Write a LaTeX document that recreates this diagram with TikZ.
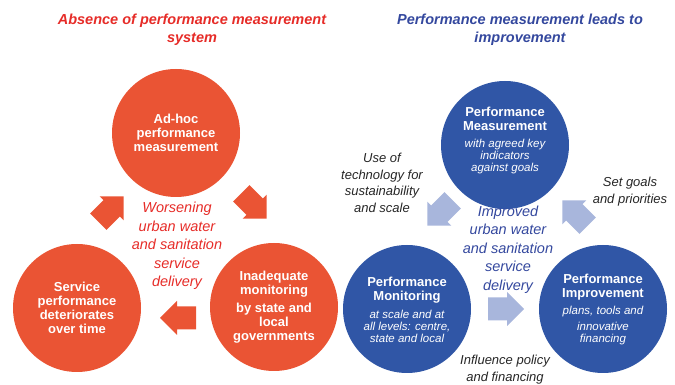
\documentclass[tikz,border=0pt]{standalone}
\usepackage{fontspec}
\setmainfont{Liberation Sans}
\definecolor{redcirc}{RGB}{234,84,52}
\definecolor{redtitle}{RGB}{230,44,40}
\definecolor{bluecirc}{RGB}{48,86,166}
\definecolor{bluetitle}{RGB}{52,72,158}
\definecolor{lightarrow}{RGB}{168,182,220}
\newcommand{\smallital}[1]{\fontsize{11.5}{#1}\selectfont\mdseries\itshape}
\begin{document}
\begin{tikzpicture}[x=1pt,y=1pt,
  disc/.style={circle, minimum size=128pt, inner sep=0pt, fill=#1},
  titletext/.style={font=\fontsize{14.5}{18}\selectfont\bfseries\itshape, text=#1, align=center},
  disctext/.style={font=\fontsize{13}{14}\selectfont\bfseries, text=white, align=center},
  centertext/.style={font=\fontsize{14.5}{18.5}\selectfont\itshape, text=#1, align=center},
  sidetext/.style={font=\fontsize{13}{16.5}\selectfont\itshape, text=black!85, align=center},
  blockarrow/.pic={\fill (-18,-11.5) -- (1,-11.5) -- (1,-17) -- (18,0) -- (1,17) -- (1,11.5) -- (-18,11.5) -- cycle;}
]
\useasboundingbox (0,0) rectangle (675,385);

% ---------- left cycle: no performance measurement ----------
\node[titletext=redtitle] (ltitle) at (192,355) {Absence of performance measurement\\system};

\node[disc=redcirc] (ladhoc) at (176,252) {};
\node[disc=redcirc] (lservice) at (77,77) {};
\node[disc=redcirc] (lmonitor) at (274,78) {};

\node[disctext] (ladhoctext) at (ladhoc) {Ad-hoc\\performance\\measurement};
\node[disctext] (lservicetext) at (lservice) {Service\\performance\\deteriorates\\over time};
\node[disctext] (lmonitortext) at (lmonitor) {Inadequate\\monitoring\\[4pt]by state and\\local\\governments};

\node[centertext=redtitle] (lcentre) at (177,139) {Worsening\\urban water\\and sanitation\\service\\delivery};

\pic[fill=redcirc, rotate=45] at (111,176) {blockarrow};
\pic[fill=redcirc, rotate=-45] at (254,179) {blockarrow};
\pic[fill=redcirc, rotate=180] at (178,67) {blockarrow};

% ---------- right cycle: measurement leads to improvement ----------
\node[titletext=bluetitle] (rtitle) at (520,355) {Performance measurement leads to\\improvement};

\node[disc=bluecirc] (rmeasure) at (505,240) {};
\node[disc=bluecirc] (rmonitor) at (407,76) {};
\node[disc=bluecirc] (rimprove) at (603,76) {};

\node[disctext] (rmeasuretext) at (505,245) {Performance\\Measurement\\[3pt]
  \smallital{11.5}with agreed key\\[-2pt]\smallital{11.5}indicators\\[-2pt]\smallital{11.5}against goals};
\node[disctext] (rmonitortext) at (407,75) {Performance\\Monitoring\\[4pt]
  \smallital{12}at scale and at\\[-1.5pt]\smallital{12}all levels: centre,\\[-2pt]\smallital{12}state and local};
\node[disctext] (rimprovetext) at (rimprove) {Performance\\Improvement\\[3pt]
  \smallital{15}plans, tools and\\[2pt]\smallital{15}innovative\\[-2pt]\smallital{13}financing};

\node[centertext=bluetitle] (rcentre) at (508,135.5) {Improved\\urban water\\and sanitation\\service\\delivery};

\pic[fill=lightarrow, rotate=-135] at (440,172) {blockarrow};
\pic[fill=lightarrow, rotate=135] at (575,172) {blockarrow};
\pic[fill=lightarrow] at (506,76) {blockarrow};

\node[sidetext] (rtech) at (382,202) {Use of\\technology for\\sustainability\\and scale};
\node[sidetext] (rgoals) at (630,193.5) {Set goals\\and priorities};
\node[sidetext] (rpolicy) at (505,15.5) {Influence policy\\and financing};
\end{tikzpicture}
\end{document}
